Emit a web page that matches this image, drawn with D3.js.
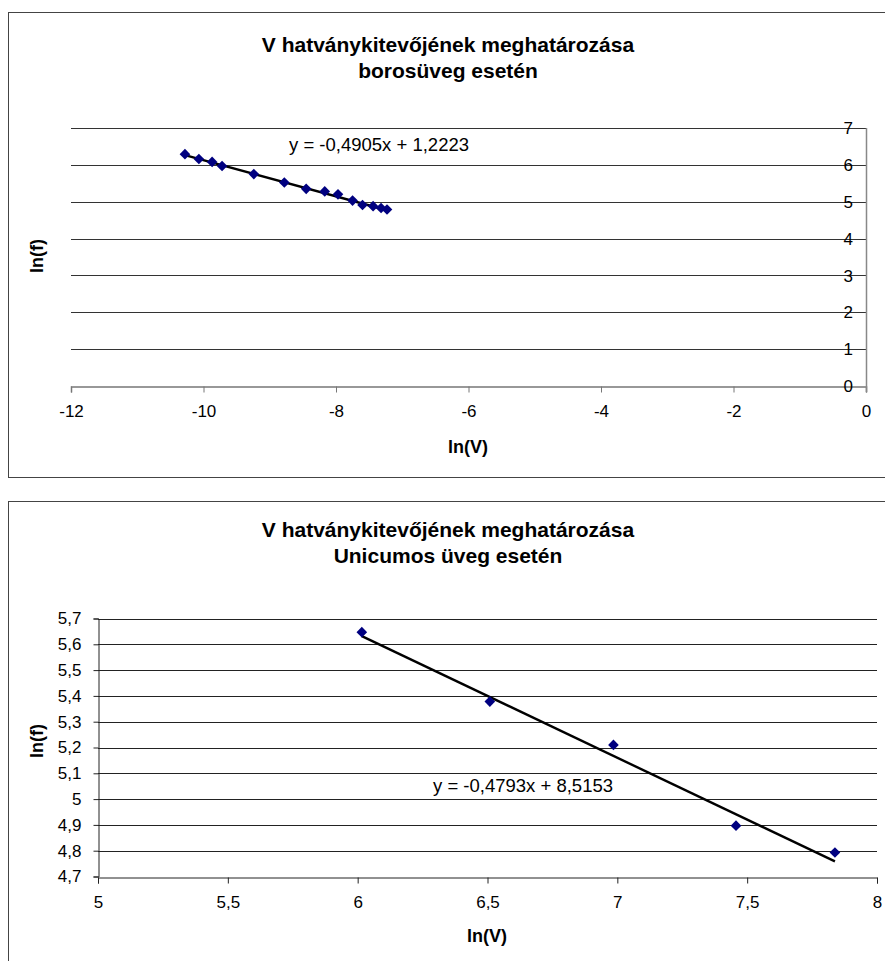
<!DOCTYPE html>
<html>
<head>
<meta charset="utf-8">
<script src="https://cdn.jsdelivr.net/npm/d3@7"></script>
<style>
  html, body { margin: 0; padding: 0; background: #fff; }
  svg { display: block; font-family: "Liberation Sans", Arial, sans-serif; }
</style>
</head>
<body>
<svg id="chart" width="885" height="961"></svg>
<script>
// Wine bottle (borosüveg): ln(V) and ln(f)
const wineLnV = [-10.28, -10.07, -9.87, -9.72, -9.24, -8.78, -8.45, -8.17, -7.97, -7.75, -7.60, -7.44, -7.32, -7.23];
const wineLnF = [6.29, 6.16, 6.08, 5.97, 5.75, 5.52, 5.35, 5.28, 5.20, 5.03, 4.91, 4.88, 4.83, 4.79];
const wineFit = { slope: -0.4905, intercept: 1.2223 };
const wineXTicks = [-12, -10, -8, -6, -4, -2, 0];
const wineYTicks = [0, 1, 2, 3, 4, 5, 6, 7];

// Unicum bottle (Unicumos üveg): ln(V) and ln(f)
const unicumLnV = [6.016, 6.509, 6.985, 7.457, 7.838];
const unicumLnF = [5.647, 5.378, 5.210, 4.897, 4.793];
const unicumFit = { slope: -0.4793, intercept: 8.5153 };
const unicumXTicks = [5, 5.5, 6, 6.5, 7, 7.5, 8];
const unicumYTicks = [4.7, 4.8, 4.9, 5.0, 5.1, 5.2, 5.3, 5.4, 5.5, 5.6, 5.7];

const TICK_FS = 17;
const EQ_FS = 18.5;
const svg = d3.select("#chart");
const fmt = v => String(+v.toFixed(2)).replace(".", ",");
const fmt4 = v => v.toFixed(4).replace(".", ",");
const eqText = f => `y = ${fmt4(f.slope)}x + ${fmt4(f.intercept)}`;

function diamond(g, pts, x, y) {
  const sym = d3.symbol().type(d3.symbolDiamond2).size(72);
  g.selectAll("path.pt").data(pts).join("path")
    .attr("class", "pt")
    .attr("d", sym)
    .attr("transform", d => `translate(${x(d[0])},${y(d[1])})`)
    .attr("fill", "#000080");
}

function trend(g, xs, fit, x, y) {
  const x0 = d3.min(xs), x1 = d3.max(xs);
  g.append("line")
    .attr("x1", x(x0)).attr("y1", y(fit.slope * x0 + fit.intercept))
    .attr("x2", x(x1)).attr("y2", y(fit.slope * x1 + fit.intercept))
    .attr("stroke", "#000").attr("stroke-width", 2.4);
}

function frame(y0) {
  svg.append("rect")
    .attr("x", 8.5).attr("y", y0 + 0.5)
    .attr("width", 900).attr("height", 465)
    .attr("fill", "#fff").attr("stroke", "#444").attr("stroke-width", 1);
}

function titles(lines, cx, y0) {
  lines.forEach((t, i) => {
    svg.append("text").attr("x", cx).attr("y", y0 + i * 26)
      .attr("text-anchor", "middle").attr("font-weight", "bold")
      .attr("font-size", 21).text(t);
  });
}

function styleText(sel, fs = TICK_FS) {
  sel.attr("font-size", fs).attr("fill", "#000")
    .attr("font-family", "Liberation Sans, Arial, sans-serif");
}

// ---------- Chart 1: wine bottle ----------
frame(12);
titles(["V hatványkitevőjének meghatározása", "borosüveg esetén"], 448, 52);
{
  const x = d3.scaleLinear().domain([-12, 0]).range([71, 866]);
  const y = d3.scaleLinear().domain([0, 7]).range([386, 128]);
  const g = svg.append("g");

  // horizontal gridlines
  g.selectAll("line.grid").data(wineYTicks.filter(v => v > 0)).join("line")
    .attr("class", "grid")
    .attr("x1", x(-12)).attr("x2", x(0))
    .attr("y1", d => Math.round(y(d)) + 0.5).attr("y2", d => Math.round(y(d)) + 0.5)
    .attr("stroke", "#333").attr("stroke-width", 1);

  // x axis at y = 0
  const xAxis = d3.axisBottom(x).tickValues(wineXTicks).tickSize(6).tickPadding(12)
    .tickFormat(d => String(d));
  const gx = g.append("g").attr("transform", `translate(0,${Math.round(y(0)) + 0.5})`).call(xAxis);
  gx.select(".domain").attr("stroke", "#777").attr("stroke-width", 1.5);
  gx.selectAll(".tick line").attr("stroke", "#777");
  styleText(gx.selectAll("text"));

  // y axis on the right edge at x = 0
  g.append("line")
    .attr("x1", x(0) + 0.5).attr("x2", x(0) + 0.5)
    .attr("y1", y(7)).attr("y2", y(0) + 6)
    .attr("stroke", "#888").attr("stroke-width", 1.5);
  styleText(g.selectAll("text.ylab").data(wineYTicks).join("text")
    .attr("class", "ylab")
    .attr("x", 853).attr("y", d => y(d)).attr("dy", "0.36em")
    .attr("text-anchor", "end").text(d => d));

  trend(g, wineLnV, wineFit, x, y);
  diamond(g, d3.zip(wineLnV, wineLnF), x, y);

  styleText(g.append("text").attr("x", 379).attr("y", 151).attr("text-anchor", "middle")
    .text(eqText(wineFit)), EQ_FS);

  g.append("text").attr("x", 468).attr("y", 453).attr("text-anchor", "middle")
    .attr("font-weight", "bold").attr("font-size", 18).text("ln(V)");
  g.append("text").attr("transform", "translate(43,256) rotate(-90)")
    .attr("text-anchor", "middle").attr("font-weight", "bold").attr("font-size", 18).text("ln(f)");
}

// ---------- Chart 2: Unicum bottle ----------
frame(501);
titles(["V hatványkitevőjének meghatározása", "Unicumos üveg esetén"], 448, 537);
{
  const x = d3.scaleLinear().domain([5, 8]).range([98, 877]);
  const y = d3.scaleLinear().domain([4.7, 5.7]).range([876.5, 618.5]);
  const g = svg.append("g");

  g.selectAll("line.grid").data(unicumYTicks.filter(v => v > 4.7)).join("line")
    .attr("class", "grid")
    .attr("x1", x(5)).attr("x2", x(8))
    .attr("y1", d => Math.round(y(d)) + 0.5).attr("y2", d => Math.round(y(d)) + 0.5)
    .attr("stroke", "#222").attr("stroke-width", 1);

  const xAxis = d3.axisBottom(x).tickValues(unicumXTicks).tickSize(6).tickPadding(12)
    .tickFormat(fmt);
  const gx = g.append("g").attr("transform", `translate(0,${Math.round(y(4.7)) + 0.5})`).call(xAxis);
  gx.select(".domain").attr("stroke", "#222");
  gx.selectAll(".tick line").attr("stroke", "#222");
  styleText(gx.selectAll("text"));

  const yAxis = d3.axisLeft(y).tickValues(unicumYTicks).tickSize(5).tickPadding(12)
    .tickFormat(fmt);
  const gy = g.append("g").attr("transform", `translate(${Math.round(x(5)) + 0.5},0)`).call(yAxis);
  gy.select(".domain").attr("stroke", "#222");
  gy.selectAll(".tick line").attr("stroke", "#222");
  styleText(gy.selectAll("text"));

  trend(g, unicumLnV, unicumFit, x, y);
  diamond(g, d3.zip(unicumLnV, unicumLnF), x, y);

  styleText(g.append("text").attr("x", 523).attr("y", 792).attr("text-anchor", "middle")
    .text(eqText(unicumFit)), EQ_FS);

  g.append("text").attr("x", 487).attr("y", 942).attr("text-anchor", "middle")
    .attr("font-weight", "bold").attr("font-size", 18).text("ln(V)");
  g.append("text").attr("transform", "translate(43,741) rotate(-90)")
    .attr("text-anchor", "middle").attr("font-weight", "bold").attr("font-size", 18).text("ln(f)");
}
</script>
</body>
</html>
